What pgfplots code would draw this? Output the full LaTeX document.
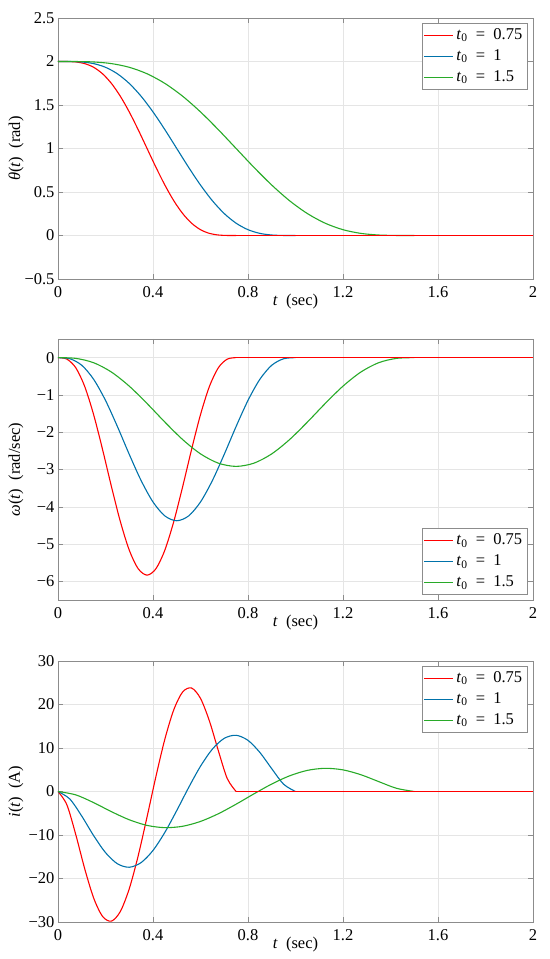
\documentclass[border=0pt]{standalone}
\usepackage{fontspec}
\setmainfont{Liberation Serif}
\usepackage{pgfplots}
\pgfplotsset{compat=1.18}
\definecolor{cred}{RGB}{255,0,0}
\definecolor{cblue}{RGB}{0,114,170}
\definecolor{cgreen}{RGB}{40,170,40}
\newcommand{\fs}{\fontsize{16.5bp}{19bp}\selectfont}
\pgfplotsset{
 myaxis/.style={
  width=475bp,height=261bp,scale only axis,
  xmin=0,xmax=2,
  xtick={0,0.4,0.8,1.2,1.6,2},
  xticklabels={0,0.4,0.8,1.2,1.6,2},
  tick align=inside,
  major tick length=5bp,
  axis line style={black!45},
  every tick/.style={black!45},
  grid=major,
  major grid style={black!10, line width=0.5bp},
  tick label style={font=\fs},
  xticklabel style={yshift=-4bp},
  label style={font=\fs},
  xlabel={\textit{t}~~(sec)},
  xlabel style={at={(axis description cs:0.5,0)},anchor=center,yshift=-23bp},
  ylabel style={at={(axis description cs:-0.0884,0.5)},anchor=center},
  legend style={font=\fs, draw=black!45, line width=0.5bp, cells={anchor=west},
    nodes={text height=12bp, text depth=4bp, inner sep=2.5bp}, row sep=0bp,
    inner xsep=2bp, inner ysep=1.5bp},
  legend image code/.code={\draw[#1] (0bp,0bp) -- (29bp,0bp);},
 },
 lr/.style={cred, line width=1.1bp},
 lb/.style={cblue, line width=1.1bp},
 lg/.style={cgreen, line width=1.1bp},
}
\begin{document}
\begin{tikzpicture}
\path[use as bounding box] (-58bp,-37bp) rectangle (492bp,922bp);
% ---------- theta ----------
\begin{axis}[myaxis, at={(0bp,643bp)}, anchor=south west,
  ymin=-0.5, ymax=2.5,
  ytick={-0.5,0,0.5,1,1.5,2,2.5},
  yticklabels={−0.5,0,0.5,1,1.5,2,2.5},
  ylabel={\textit{θ}(\textit{t})~~(rad)},
  legend style={at={(1,1)}, anchor=north east, xshift=-6bp, yshift=-5bp}]
\addplot[lr, smooth] coordinates {(0,2) (0.0375,1.99961) (0.075,1.99454) (0.1125,1.97579) (0.15,1.93331) (0.1875,1.85889) (0.225,1.74793) (0.2625,1.60031) (0.3,1.42042) (0.3375,1.21658) (0.375,1) (0.4125,0.78342) (0.45,0.57958) (0.4875,0.39969) (0.525,0.25207) (0.5625,0.14111) (0.6,0.06669) (0.6375,0.02421) (0.675,0.00546) (0.7125,0.00039) (0.75,0)};
\addlegendentry{\textit{t}\textsubscript{0} ~=~ 0.75}
\addplot[lb, smooth] coordinates {(0,2) (0.05,1.99961) (0.1,1.99454) (0.15,1.97579) (0.2,1.93331) (0.25,1.85889) (0.3,1.74793) (0.35,1.60031) (0.4,1.42042) (0.45,1.21658) (0.5,1) (0.55,0.78342) (0.6,0.57958) (0.65,0.39969) (0.7,0.25207) (0.75,0.14111) (0.8,0.06669) (0.85,0.02421) (0.9,0.00546) (0.95,0.00039) (1,0)};
\addlegendentry{\textit{t}\textsubscript{0} ~=~ 1}
\addplot[lg, smooth] coordinates {(0,2) (0.075,1.99961) (0.15,1.99454) (0.225,1.97579) (0.3,1.93331) (0.375,1.85889) (0.45,1.74793) (0.525,1.60031) (0.6,1.42042) (0.675,1.21658) (0.75,1) (0.825,0.78342) (0.9,0.57958) (0.975,0.39969) (1.05,0.25207) (1.125,0.14111) (1.2,0.06669) (1.275,0.02421) (1.35,0.00546) (1.425,0.00039) (1.5,0)};
\addlegendentry{\textit{t}\textsubscript{0} ~=~ 1.5}
\addplot[lg, forget plot] coordinates {(1.5,0) (2,0)};
\addplot[lb, forget plot] coordinates {(1,0) (2,0)};
\addplot[lr, forget plot] coordinates {(0.75,0) (2,0)};
\end{axis}
% ---------- omega ----------
\begin{axis}[myaxis, at={(0bp,322bp)}, anchor=south west,
  ymin=-6.5, ymax=0.5,
  ytick={-6,-5,-4,-3,-2,-1,0},
  yticklabels={−6,−5,−4,−3,−2,−1,0},
  ylabel={\textit{ω}(\textit{t})~~(rad/sec)},
  legend style={at={(1,0)}, anchor=south east, xshift=-6bp, yshift=5bp}]
\addplot[lr, smooth] coordinates {(0,0) (0.0375,-0.04001) (0.075,-0.27216) (0.1125,-0.77379) (0.15,-1.52917) (0.1875,-2.46093) (0.225,-3.45744) (0.2625,-4.39589) (0.3,-5.16096) (0.3375,-5.66008) (0.375,-5.83333) (0.4125,-5.66008) (0.45,-5.16096) (0.4875,-4.39589) (0.525,-3.45744) (0.5625,-2.46093) (0.6,-1.52917) (0.6375,-0.77379) (0.675,-0.27216) (0.7125,-0.04001) (0.75,0)};
\addlegendentry{\textit{t}\textsubscript{0} ~=~ 0.75}
\addplot[lb, smooth] coordinates {(0,0) (0.05,-0.03001) (0.1,-0.20412) (0.15,-0.58034) (0.2,-1.14688) (0.25,-1.8457) (0.3,-2.59308) (0.35,-3.29692) (0.4,-3.87072) (0.45,-4.24506) (0.5,-4.375) (0.55,-4.24506) (0.6,-3.87072) (0.65,-3.29692) (0.7,-2.59308) (0.75,-1.8457) (0.8,-1.14688) (0.85,-0.58034) (0.9,-0.20412) (0.95,-0.03001) (1,0)};
\addlegendentry{\textit{t}\textsubscript{0} ~=~ 1}
\addplot[lg, smooth] coordinates {(0,0) (0.075,-0.02001) (0.15,-0.13608) (0.225,-0.38689) (0.3,-0.76459) (0.375,-1.23047) (0.45,-1.72872) (0.525,-2.19795) (0.6,-2.58048) (0.675,-2.83004) (0.75,-2.91667) (0.825,-2.83004) (0.9,-2.58048) (0.975,-2.19795) (1.05,-1.72872) (1.125,-1.23047) (1.2,-0.76459) (1.275,-0.38689) (1.35,-0.13608) (1.425,-0.02001) (1.5,0)};
\addlegendentry{\textit{t}\textsubscript{0} ~=~ 1.5}
\addplot[lg, forget plot] coordinates {(1.5,0) (2,0)};
\addplot[lb, forget plot] coordinates {(1,0) (2,0)};
\addplot[lr, forget plot] coordinates {(0.75,0) (2,0)};
\end{axis}
% ---------- current ----------
\begin{axis}[myaxis, at={(0bp,0bp)}, anchor=south west,
  ymin=-30, ymax=30,
  ytick={-30,-20,-10,0,10,20,30},
  yticklabels={−30,−20,−10,0,10,20,30},
  ylabel={\textit{i}(\textit{t})~~(A)},
  legend style={at={(1,1)}, anchor=north east, xshift=-6bp, yshift=-5bp}]
\addplot[lr, smooth] coordinates {(0,0) (0.0375,-3.0724) (0.075,-9.94896) (0.1125,-17.767) (0.15,-24.46677) (0.1875,-28.71093) (0.225,-29.79984) (0.2625,-27.5827) (0.3,-22.36416) (0.3375,-14.80767) (0.375,-5.83333) (0.4125,3.48751) (0.45,12.04224) (0.4875,18.79092) (0.525,22.88496) (0.5625,23.78907) (0.6,21.40843) (0.6375,16.21942) (0.675,9.40464) (0.7125,2.99238) (0.75,0)};
\addlegendentry{\textit{t}\textsubscript{0} ~=~ 0.75}
\addplot[lb, smooth] coordinates {(0,0) (0.05,-1.73573) (0.1,-5.64732) (0.15,-10.13902) (0.2,-14.04928) (0.25,-16.61132) (0.3,-17.41068) (0.35,-16.3395) (0.4,-13.54752) (0.45,-9.39058) (0.5,-4.375) (0.55,0.90046) (0.6,5.80608) (0.65,9.74566) (0.7,12.22452) (0.75,12.91992) (0.8,11.75552) (0.85,8.97834) (0.9,5.23908) (0.95,1.67571) (1,0)};
\addlegendentry{\textit{t}\textsubscript{0} ~=~ 1}
\addplot[lg, smooth] coordinates {(0,0) (0.075,-0.77811) (0.15,-2.55528) (0.225,-4.63519) (0.3,-6.49899) (0.375,-7.79297) (0.45,-8.31432) (0.525,-7.99465) (0.6,-6.88128) (0.675,-5.11694) (0.75,-2.91667) (0.825,-0.54314) (0.9,1.72032) (0.975,3.59875) (1.05,4.85688) (1.125,5.33203) (1.2,4.96981) (1.275,3.86141) (1.35,2.28312) (1.425,0.73809) (1.5,0)};
\addlegendentry{\textit{t}\textsubscript{0} ~=~ 1.5}
\addplot[lg, forget plot] coordinates {(1.5,0) (2,0)};
\addplot[lb, forget plot] coordinates {(1,0) (2,0)};
\addplot[lr, forget plot] coordinates {(0.75,0) (2,0)};
\end{axis}
\end{tikzpicture}
\end{document}
